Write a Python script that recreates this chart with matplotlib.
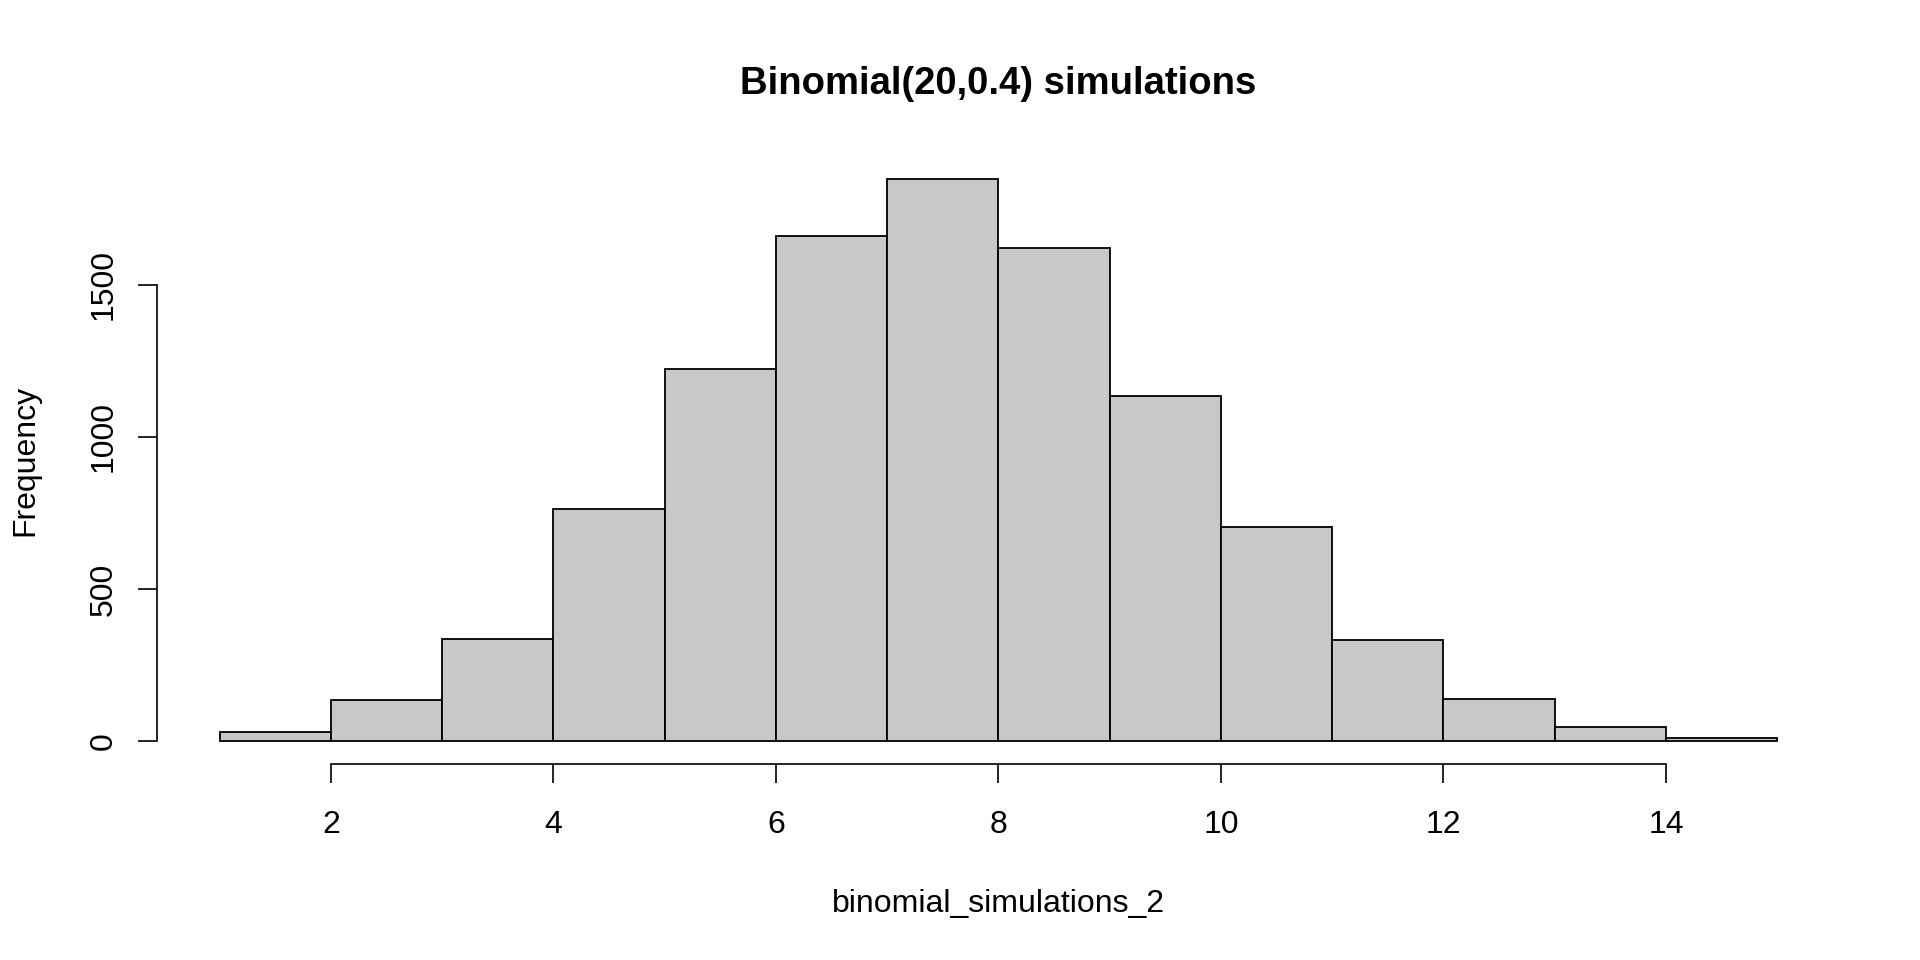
import matplotlib
matplotlib.use("Agg")
import matplotlib.pyplot as plt
import numpy as np

# Data
bin_edges = [1, 2, 3, 4, 5, 6, 7, 8, 9, 10, 11, 12, 13, 14, 15]
counts = [30, 136, 335, 763, 1222, 1660, 1847, 1621, 1135, 704, 334, 139, 46, 11]
x_ticks = [2, 4, 6, 8, 10, 12, 14]
y_ticks = [0, 500, 1000, 1500]
title = "Binomial(20,0.4) simulations"
xlabel = "binomial_simulations_2"
ylabel = "Frequency"

plt.rcParams['font.family'] = ['Liberation Sans', 'DejaVu Sans']

fig = plt.figure(figsize=(19.2, 9.6), dpi=100)
ax = fig.add_axes([0.0819, 0.2044, 0.8762, 0.6323])

edges = np.array(bin_edges, dtype=float)
ax.bar(edges[:-1], counts, width=np.diff(edges), align='edge',
       color='#c8c8c8', edgecolor='black', linewidth=1.3)

xr = edges[-1] - edges[0]
ax.set_xlim(edges[0] - 0.04 * xr, edges[-1] + 0.04 * xr)
ymax = max(counts)
ax.set_ylim(-0.04 * ymax, 1.04 * ymax)

for s in ['top', 'right']:
    ax.spines[s].set_visible(False)
ax.spines['left'].set_bounds(y_ticks[0], y_ticks[-1])
ax.spines['bottom'].set_bounds(x_ticks[0], x_ticks[-1])
ax.spines['left'].set_linewidth(1.2)
ax.spines['bottom'].set_linewidth(1.2)

fs = 23
ax.set_xticks(x_ticks)
ax.set_xticklabels([str(v) for v in x_ticks], fontsize=fs)
ax.set_yticks(y_ticks)
ax.set_yticklabels([str(v) for v in y_ticks], fontsize=fs, rotation=90, va='center')
ax.tick_params(axis='both', direction='out', length=13.7, width=1.2, color='black')
ax.tick_params(axis='x', pad=19.8)
ax.tick_params(axis='y', pad=14.2)

ax.set_xlabel(xlabel, fontsize=fs)
ax.xaxis.set_label_coords(0.5, -0.207)
ax.set_ylabel(ylabel, fontsize=fs)
ax.yaxis.set_label_coords(-0.0696, 0.5)

ax.set_title(title, fontsize=27.5, fontweight='bold', y=1.104, pad=0)

fig.savefig("out.png", dpi=100)
